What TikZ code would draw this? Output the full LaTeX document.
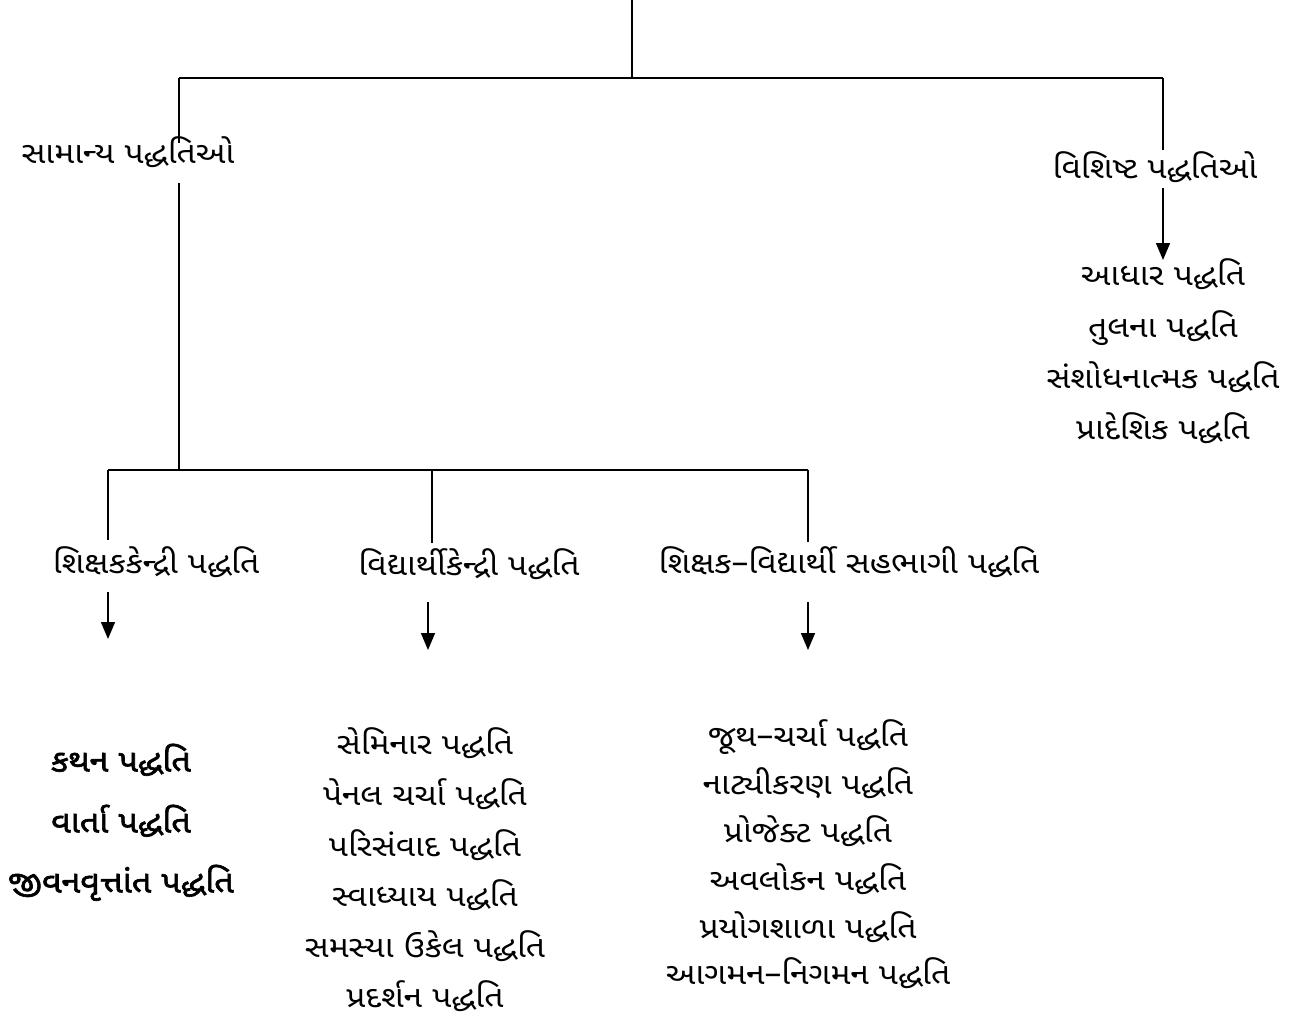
\documentclass[tikz,border=0pt]{standalone}
\usepackage{fontspec}
\newfontfamily\guj[Script=Gujarati,FakeStretch=1.12]{Noto Sans Gujarati UI}
\newfontfamily\gujb[Script=Gujarati,FakeBold=2,FakeStretch=1.1]{Noto Sans Gujarati UI}
\usetikzlibrary{arrows.meta,calc}
\begin{document}
\begin{tikzpicture}[x=1pt,y=-1pt,
  ln/.style={line width=1.4pt},
  arr/.style={line width=1.4pt,-{Triangle[length=17pt,width=14pt]}},
  txt/.style={inner sep=0pt,text height=16pt,text depth=0pt,font=\guj\fontsize{30pt}{33pt}\selectfont},
  btxt/.style={inner sep=0pt,text height=17pt,text depth=0pt,font=\gujb\fontsize{31pt}{34pt}\selectfont}]
\useasboundingbox (0,0) rectangle (1301,1018);
% junctions
\coordinate (top) at (632,0);
\coordinate (jt) at (632,78);
\coordinate (jl) at (179,78);
\coordinate (jr) at (1163,78);
\coordinate (jb) at (179,470);
\coordinate (b1) at (108,470);
\coordinate (b2) at (432,470);
\coordinate (b3) at (808,470);
% headings
\node[txt] (sam) at (128,155) {સામાન્ય પદ્ધતિઓ};
\node[txt] (vis) at (1155,170) {વિશિષ્ટ પદ્ધતિઓ};
\node[txt] (h1) at (156,565) {શિક્ષકકેન્દ્રી પદ્ધતિ};
\node[txt] (h2) at (469,567) {વિદ્યાર્થીકેન્દ્રી પદ્ધતિ};
\node[txt] (h3) at (849,565) {શિક્ષક–વિદ્યાર્થી સહભાગી પદ્ધતિ};
% arrow ends
\coordinate (e1) at (108,639);
\coordinate (e2) at (428,650);
\coordinate (e3) at (808,650);
\coordinate (er) at (1163,260);
% lists
\node[txt] (r1) at (1163,277) {આધાર પદ્ધતિ};
\node[txt] (r2) at (1163,329) {તુલના પદ્ધતિ};
\node[txt] (r3) at (1163,380) {સંશોધનાત્મક પદ્ધતિ};
\node[txt] (r4) at (1163,431) {પ્રાદેશિક પદ્ધતિ};
\node[btxt] (k1) at (121,763) {કથન પદ્ધતિ};
\node[btxt] (k2) at (121,824) {વાર્તા પદ્ધતિ};
\node[btxt] (k3) at (121,884) {જીવનવૃત્તાંત પદ્ધતિ};
\node[txt] (m1) at (425,746) {સેમિનાર પદ્ધતિ};
\node[txt] (m2) at (425,797) {પેનલ ચર્ચા પદ્ધતિ};
\node[txt] (m3) at (425,848) {પરિસંવાદ પદ્ધતિ};
\node[txt] (m4) at (425,898) {સ્વાધ્યાય પદ્ધતિ};
\node[txt] (m5) at (425,949) {સમસ્યા ઉકેલ પદ્ધતિ};
\node[txt] (m6) at (425,999) {પ્રદર્શન પદ્ધતિ};
\node[txt] (p1) at (808,738) {જૂથ–ચર્ચા પદ્ધતિ};
\node[txt] (p2) at (808,786) {નાટ્યીકરણ પદ્ધતિ};
\node[txt] (p3) at (808,834) {પ્રોજેક્ટ પદ્ધતિ};
\node[txt] (p4) at (808,882) {અવલોકન પદ્ધતિ};
\node[txt] (p5) at (808,930) {પ્રયોગશાળા પદ્ધતિ};
\node[txt] (p6) at (808,976) {આગમન–નિગમન પદ્ધતિ};
% connectors
\draw[ln] (top) -- (jt);
\draw[ln] (jl) -- (jr);
\draw[ln] (jl) -- ($(jl |- sam.north)+(0,-4)$);
\draw[ln] ($(jl |- sam.south)+(0,20)$) -- (jb);
\draw[ln] (jr) -- ($(jr |- vis.north)+(0,-12)$);
\draw[arr] ($(jr |- vis.south)+(0,10)$) -- (er);
\draw[ln] (b1) -- (b3);
\draw[ln] (b1) -- ($(b1 |- h1.north)+(0,-17)$);
\draw[ln] (b2) -- ($(b2 |- h2.north)+(0,-16)$);
\draw[ln] (b3) -- ($(b3 |- h3.north)+(0,-15)$);
\draw[arr] ($(e1 |- h1.south)+(0,19)$) -- (e1);
\draw[arr] ($(e2 |- h2.south)+(0,27)$) -- (e2);
\draw[arr] ($(e3 |- h3.south)+(0,29)$) -- (e3);
\end{tikzpicture}
\end{document}
